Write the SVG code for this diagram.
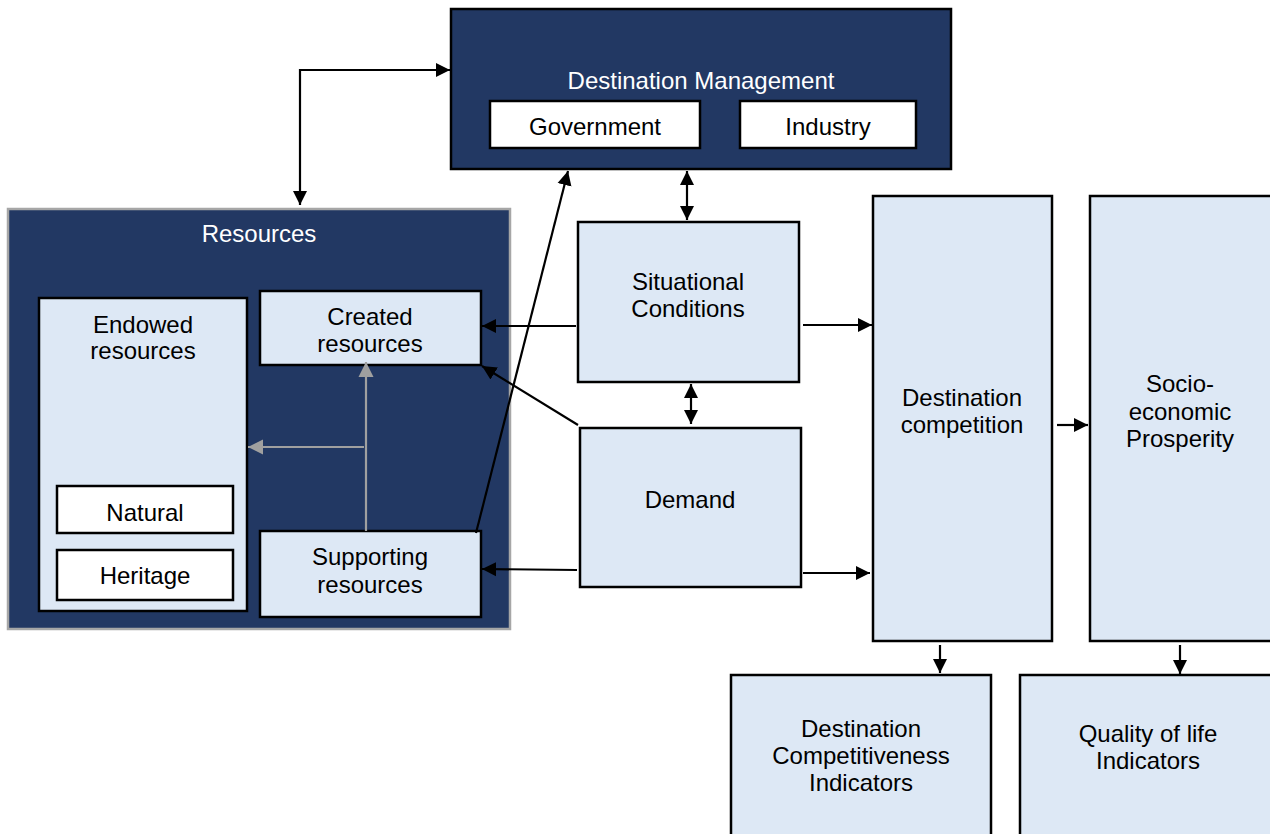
<svg xmlns="http://www.w3.org/2000/svg" width="1270" height="834" viewBox="0 0 1270 834">
  <style>
    text { font-family: "Liberation Sans", Arial, sans-serif; font-size: 24px; text-anchor: middle; fill: #000; }
    .dark { fill: #223863; stroke: #000; stroke-width: 2.5; }
    .res { fill: #223863; stroke: #a6a6a6; stroke-width: 2.5; }
    .light { fill: #dde8f5; stroke: #000; stroke-width: 2.5; }
    .white { fill: #fff; stroke: #000; stroke-width: 2.5; }
    .wt { fill: #fff; }
    .conn { stroke: #000; stroke-width: 2.2; fill: none; }
    .gconn { stroke: #a0a0a0; stroke-width: 2.2; fill: none; }
  </style>
  <defs>
    <marker id="ah" viewBox="0 0 10 10" refX="10" refY="5" markerWidth="6.5" markerHeight="7" markerUnits="strokeWidth" orient="auto-start-reverse">
      <path d="M0,0 L10,5 L0,10 Z" fill="#000"/>
    </marker>
    <marker id="ahg" viewBox="0 0 10 10" refX="10" refY="5" markerWidth="7" markerHeight="7.5" markerUnits="strokeWidth" orient="auto-start-reverse">
      <path d="M0,0 L10,5 L0,10 Z" fill="#a0a0a0"/>
    </marker>
  </defs>

  <rect width="1270" height="834" fill="#fff"/>

  <!-- Destination management -->
  <g id="destination-management">
    <rect class="dark" x="451" y="9" width="500" height="160"/>
    <text class="wt" x="701" y="89">Destination Management</text>
    <g id="government">
      <rect class="white" x="490" y="101" width="210" height="47"/>
      <text x="595" y="135">Government</text>
    </g>
    <g id="industry">
      <rect class="white" x="740" y="101" width="176" height="47"/>
      <text x="828" y="135">Industry</text>
    </g>
  </g>

  <!-- Resources -->
  <g id="resources">
    <rect class="res" x="8" y="209" width="502" height="420"/>
    <text class="wt" x="259" y="242">Resources</text>
    <g id="endowed">
      <rect class="light" x="39" y="298" width="208" height="313"/>
      <text x="143" y="333">Endowed</text>
      <text x="143" y="359">resources</text>
      <g id="natural">
        <rect class="white" x="57" y="486" width="176" height="47"/>
        <text x="145" y="521">Natural</text>
      </g>
      <g id="heritage">
        <rect class="white" x="57" y="550" width="176" height="50"/>
        <text x="145" y="584">Heritage</text>
      </g>
    </g>
    <g id="created">
      <rect class="light" x="260" y="291" width="221" height="74"/>
      <text x="370" y="325">Created</text>
      <text x="370" y="352">resources</text>
    </g>
    <g id="supporting">
      <rect class="light" x="260" y="531" width="221" height="86"/>
      <text x="370" y="565">Supporting</text>
      <text x="370" y="593">resources</text>
    </g>
  </g>

  <g id="situational-conditions">
    <rect class="light" x="578" y="222" width="221" height="160"/>
    <text x="688" y="290">Situational</text>
    <text x="688" y="317">Conditions</text>
  </g>

  <g id="demand">
    <rect class="light" x="580" y="428" width="221" height="159"/>
    <text x="690" y="508">Demand</text>
  </g>

  <g id="destination-competition">
    <rect class="light" x="873" y="196" width="179" height="445"/>
    <text x="962" y="406">Destination</text>
    <text x="962" y="433">competition</text>
  </g>

  <g id="socio-economic-prosperity">
    <rect class="light" x="1090" y="196" width="182" height="445"/>
    <text x="1180" y="392">Socio-</text>
    <text x="1180" y="420">economic</text>
    <text x="1180" y="447">Prosperity</text>
  </g>

  <g id="competitiveness-indicators">
    <rect class="light" x="731" y="675" width="260" height="170"/>
    <text x="861" y="737">Destination</text>
    <text x="861" y="764">Competitiveness</text>
    <text x="861" y="791">Indicators</text>
  </g>

  <g id="quality-of-life-indicators">
    <rect class="light" x="1020" y="675" width="260" height="170"/>
    <text x="1148" y="742">Quality of life</text>
    <text x="1148" y="769">Indicators</text>
  </g>

  <!-- Connectors -->
  <g id="connectors">
    <path class="conn" d="M300,205 L300,70 L450,70" marker-start="url(#ah)" marker-end="url(#ah)"/>
    <path class="conn" d="M476,533 L568,171" marker-end="url(#ah)"/>
    <path class="conn" d="M687,171 L687,220" marker-start="url(#ah)" marker-end="url(#ah)"/>
    <path class="conn" d="M576,326 L482,326" marker-end="url(#ah)"/>
    <path class="conn" d="M578,425 L482,366" marker-end="url(#ah)"/>
    <path class="conn" d="M691,384 L691,424" marker-start="url(#ah)" marker-end="url(#ah)"/>
    <path class="conn" d="M577,570 L482,569" marker-end="url(#ah)"/>
    <path class="conn" d="M803,325 L872,325" marker-end="url(#ah)"/>
    <path class="conn" d="M803,573 L870,573" marker-end="url(#ah)"/>
    <path class="conn" d="M1057,425 L1088,425" marker-end="url(#ah)"/>
    <path class="conn" d="M940,645 L940,673" marker-end="url(#ah)"/>
    <path class="conn" d="M1180,645 L1180,674" marker-end="url(#ah)"/>
    <path class="gconn" d="M366,531 L366,362" marker-end="url(#ahg)"/>
    <path class="gconn" d="M364,447 L248,447" marker-end="url(#ahg)"/>
  </g>
</svg>
